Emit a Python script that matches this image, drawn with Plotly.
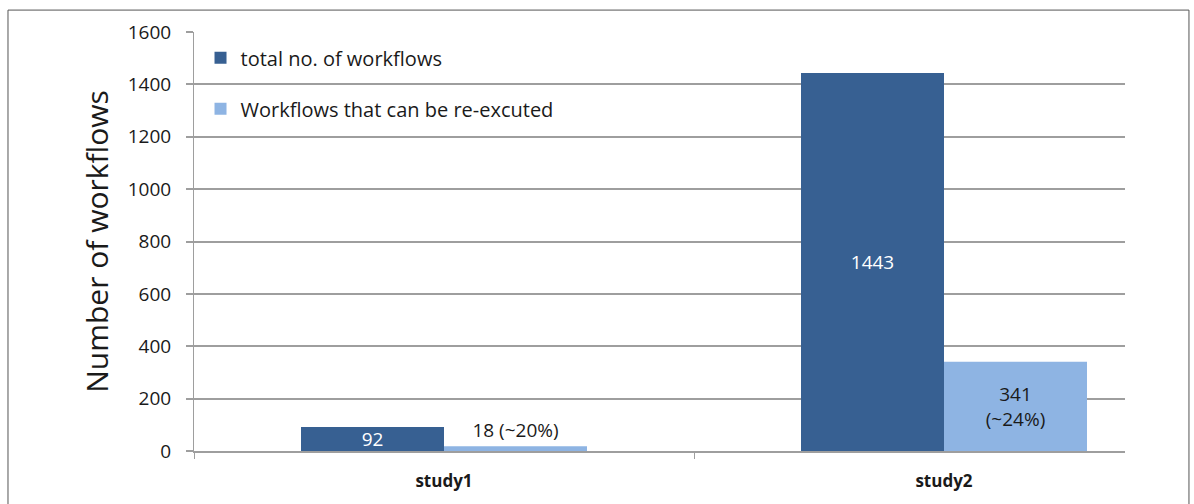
import plotly.graph_objects as go

categories = ["study1", "study2"]
total_workflows = [92, 1443]
reexecutable = [18, 341]
total_labels = ["92", "1443"]
reexec_labels = ["18 (~20%)", "341<br>(~24%)"]
y_ticks = [0, 200, 400, 600, 800, 1000, 1200, 1400, 1600]

FONT = "Open Sans, Liberation Sans, sans-serif"
DARK = "#376092"
LIGHT = "#8EB4E3"
GRID = "#9E9E9E"
TXT = "#1a1a1a"

fig = go.Figure()
fig.add_trace(go.Bar(
    x=categories, y=total_workflows, name="total no. of workflows",
    marker=dict(color=DARK, line=dict(width=0)),
    text=total_labels, textposition="inside", insidetextanchor="middle", textangle=0,
    constraintext="none",
    textfont=dict(color="white", size=19, family=FONT),
    legendgroup="a", cliponaxis=False,
))
fig.add_trace(go.Bar(
    x=categories, y=reexecutable, name="Workflows that can be re-excuted",
    marker=dict(color=LIGHT, line=dict(width=0)),
    text=reexec_labels, textposition=["outside", "inside"], insidetextanchor="middle", textangle=0,
    constraintext="none",
    textfont=dict(color=TXT, size=19, family=FONT),
    outsidetextfont=dict(color=TXT, size=19, family=FONT),
    legendgroup="b", cliponaxis=False,
))

fig.update_layout(
    width=1194, height=504,
    margin=dict(l=194, r=69, t=32, b=51),
    paper_bgcolor="white", plot_bgcolor="white",
    barmode="group", bargap=0.428, bargroupgap=0,
    font=dict(family=FONT, color=TXT),
    showlegend=True,
    legend=dict(
        x=0.007, y=0.985, xanchor="left", yanchor="top",
        bgcolor="rgba(0,0,0,0)", font=dict(size=20, family=FONT, color=TXT),
        tracegroupgap=22, itemwidth=30,
    ),
    xaxis=dict(
        range=[-0.5, 1.362], showgrid=False,
        showline=True, linecolor=GRID, linewidth=2,
        ticks="outside", tickson="boundaries", ticklen=6, tickcolor=GRID, tickwidth=1,
        tickfont=dict(size=17, family=FONT, weight="bold", color=TXT),
        ticklabelstandoff=14,
    ),
    yaxis=dict(
        range=[0, 1600], tickvals=y_ticks,
        showgrid=True, gridcolor=GRID, gridwidth=2,
        showline=True, linecolor=GRID, linewidth=1,
        ticks="outside", ticklen=7, tickcolor=GRID, tickwidth=2,
        tickfont=dict(size=19, family=FONT, color=TXT),
        ticklabelstandoff=11,
        zeroline=False,
        title=dict(text="Number of workflows", font=dict(size=30, family=FONT, color=TXT), standoff=10),
    ),
)

fig.add_shape(type="rect", xref="paper", yref="paper",
              x0=-0.1998, x1=1.0687, y0=-0.2, y1=1.0523,
              line=dict(color="#555555", width=1), fillcolor="rgba(0,0,0,0)", layer="below")

fig.write_html("out.html")
